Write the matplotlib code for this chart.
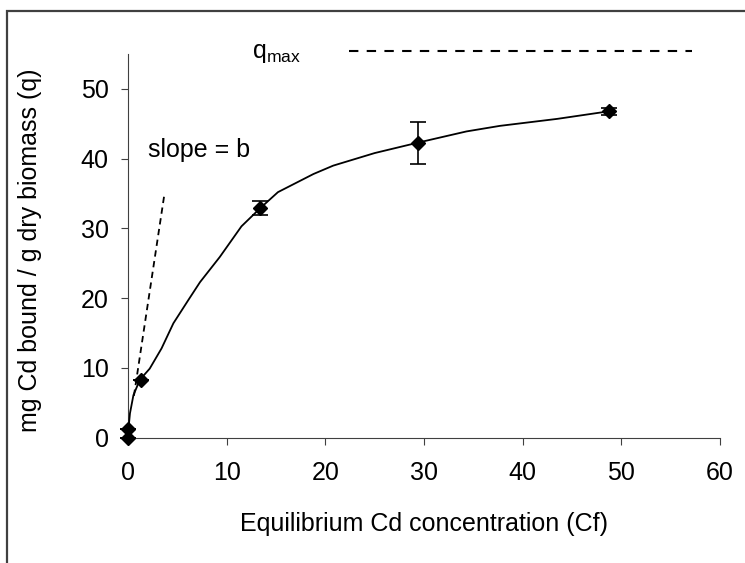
import matplotlib
matplotlib.use("Agg")
import matplotlib.pyplot as plt
from matplotlib.patches import Rectangle

plt.rcParams['font.family'] = ['Liberation Sans', 'DejaVu Sans']
plt.rcParams['mathtext.fontset'] = 'custom'
plt.rcParams['mathtext.rm'] = 'Liberation Sans'
plt.rcParams['mathtext.it'] = 'Liberation Sans'

# measured points
cf = [0, 0, 1.3, 13.4, 29.4, 48.8]
q = [0, 1.2, 8.2, 32.9, 42.3, 46.8]
q_err = [0, 0, 0, 1.0, 3.0, 0.5]
cf_err_right = [0, 0.6, 0.8, 0, 0, 0]

# fitted curve
fit_c = [0, 0.05, 0.2, 0.55, 1.2, 2.2, 3.4, 4.6, 6.1, 7.3, 9.3, 11.5, 13.4,
         15.2, 18.8, 20.8, 25, 29.4, 34.3, 37.7, 43.5, 48.8]
fit_q = [0, 1.3, 3.5, 6.1, 8.3, 9.9, 12.8, 16.4, 19.7, 22.3, 25.9, 30.3, 32.9,
         35.2, 37.8, 39.0, 40.8, 42.3, 43.9, 44.7, 45.7, 46.8]

# annotation lines
slope_c = [0.6, 3.7]
slope_q = [6, 35]
qmax_c = [22.4, 57.2]
qmax_q = [55.4, 55.4]

x_ticks = [0, 10, 20, 30, 40, 50, 60]
y_ticks = [0, 10, 20, 30, 40, 50]

FS = 18

fig = plt.figure(figsize=(7.45, 5.63), dpi=100)
ax = fig.add_axes([128/745, 1-437.7/563, (720-128)/745, (437.7-54)/563])

ax.plot(fit_c, fit_q, color='black', lw=1.3, zorder=3)
ax.errorbar(cf, q, xerr=[[0]*len(cf), cf_err_right], fmt='none',
            ecolor='black', elinewidth=1.2, capsize=0, zorder=4, clip_on=False)
ax.errorbar(cf, q, yerr=q_err, fmt='D', color='black', ms=7,
            ecolor='black', elinewidth=1.2, capsize=5.5, capthick=1.2,
            zorder=4, clip_on=False)
ax.plot(slope_c, slope_q, color='black', lw=1.3, linestyle=(0, (3.5, 2.5)))
ax.plot(qmax_c, qmax_q, color='black', lw=1.5, linestyle=(0, (4.5, 4)),
        clip_on=False)

ax.text(2.0, 41.2, 'slope = b', fontsize=FS, va='center', ha='left')
ax.text(12.6, 55.2, r'q$_{\mathregular{max}}$', fontsize=FS, va='center', ha='left')

ax.set_xlim(0, 60)
ax.set_ylim(0, 55)
ax.set_xticks(x_ticks)
ax.set_yticks(y_ticks)
ax.tick_params(labelsize=FS, length=5, width=0.8, color='#404040', direction='out')
ax.tick_params(axis='x', pad=12)
ax.tick_params(axis='y', pad=9)
for s in ['top', 'right']:
    ax.spines[s].set_visible(False)
for s in ['left', 'bottom']:
    ax.spines[s].set_color('#404040')
    ax.spines[s].set_linewidth(0.8)

ax.set_xlabel('Equilibrium Cd concentration (Cf)', fontsize=FS, labelpad=19)
fig.text(30/745, 1-250/563, 'mg Cd bound / g dry biomass (q)', fontsize=FS,
         rotation=90, ha='center', va='center')

# outer chart border
fig.patches.append(Rectangle((7/745, -0.1), 1.2, 1 - 11/563 + 0.1,
                             transform=fig.transFigure, fill=False,
                             edgecolor='#404040', lw=1.6))

fig.savefig('out.png', dpi=100)
